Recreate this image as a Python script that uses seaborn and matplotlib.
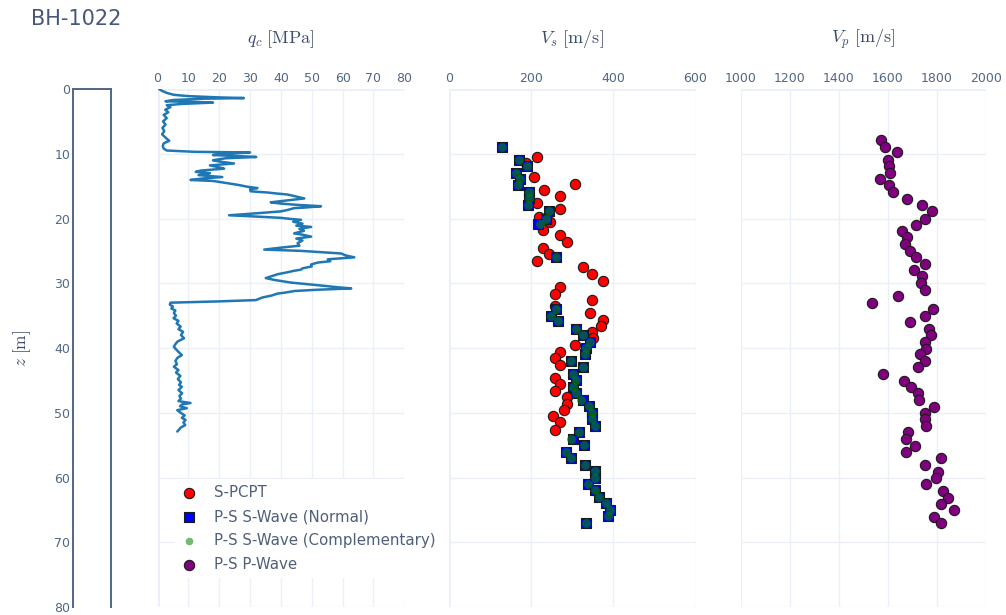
import matplotlib
matplotlib.use("Agg")
import matplotlib.pyplot as plt
import numpy as np
import pandas as pd
import seaborn as sns

# ---------------- data ----------------
title_text = "BH-1022"

qc_depth = [0.0, 0.3, 0.6, 0.9, 1.1, 1.3, 1.4, 1.5, 1.7, 1.9, 2.0, 2.1, 2.3, 2.5, 2.8,
            3.2, 3.6, 4.0, 4.5, 5.0, 5.5, 6.0, 6.5, 7.0, 7.5, 8.0, 8.4, 8.8, 9.2, 9.5,
            9.7, 9.75, 9.8, 10.0, 10.2, 10.4, 10.5, 10.7, 11.0, 11.2, 11.5, 11.8, 12.1,
            12.3, 12.6, 12.8, 13.0, 13.3, 13.6, 13.8, 14.05, 14.2, 14.5, 14.8, 15.1, 15.3,
            15.5, 15.8, 16.0, 16.1, 16.3, 16.6, 16.9, 17.2, 17.5, 17.7, 17.9, 18.1, 18.3,
            18.4, 18.7, 18.9, 19.2, 19.5, 19.7, 19.9, 20.1, 20.2, 20.5, 20.8, 21.1, 21.3,
            21.6, 21.9, 22.3, 22.5, 22.8, 23.1, 23.4, 23.8, 24.2, 24.5, 24.8, 25.0, 25.2,
            25.4, 25.7, 26.0, 26.3, 26.6, 26.8, 27.1, 27.4, 27.7, 27.9, 28.1, 28.3, 28.6,
            28.9, 29.2, 29.5, 29.9, 30.3, 30.6, 30.8, 31.0, 31.2, 31.4, 31.6, 31.9, 32.2,
            32.6, 32.8, 33.0, 33.3, 33.6, 33.9, 34.2, 34.6, 35.0, 35.4, 35.8, 36.2, 36.7,
            37.1, 37.5, 38.0, 38.5, 39.0, 39.4, 39.8, 40.2, 40.6, 41.1, 41.5, 42.0, 42.5,
            42.9, 43.4, 43.8, 44.3, 44.8, 45.3, 45.7, 46.0, 46.5, 47.0, 47.4, 47.8, 48.2,
            48.5, 48.7, 49.0, 49.3, 49.6, 50.0, 50.4, 50.8, 51.1, 51.5, 51.9, 52.3, 52.6,
            52.9]
qc_values = [0.5, 1.5, 3.0, 5.3, 10.0, 20.0, 28.0, 15.0, 5.0, 2.6, 12.0, 18.0, 8.0, 3.0, 4.2,
             2.5, 3.5, 2.0, 3.0, 1.8, 2.6, 1.6, 2.2, 1.5, 2.6, 3.8, 2.0, 1.7, 2.0, 3.0,
             12.0, 20.0, 30.0, 22.0, 18.0, 28.0, 32.0, 22.0, 18.0, 20.0, 24.8, 17.0, 20.0,
             21.6, 14.0, 12.4, 17.0, 13.3, 21.0, 15.0, 10.7, 18.0, 22.0, 26.0, 29.2, 32.4,
             30.0, 30.2, 36.0, 37.8, 42.2, 44.9, 47.6, 42.0, 36.7, 40.0, 45.4, 53.0, 48.0,
             44.3, 42.0, 40.0, 32.0, 23.2, 32.0, 40.0, 43.8, 46.5, 44.0, 47.0, 45.0, 49.8,
             46.0, 47.5, 44.3, 47.0, 49.8, 45.0, 47.0, 45.4, 46.0, 40.0, 34.6, 46.5, 53.0,
             59.5, 61.0, 63.8, 55.2, 56.0, 52.0, 49.8, 50.0, 47.0, 46.5, 44.0, 42.2, 39.0,
             37.0, 35.1, 38.0, 43.3, 52.0, 58.0, 62.8, 52.0, 44.3, 42.0, 38.9, 37.0, 34.0,
             31.9, 20.0, 4.2, 4.0, 5.0, 4.5, 5.8, 5.3, 6.0, 5.2, 6.8, 6.2, 7.5,
             6.8, 8.3, 7.6, 8.6, 6.5, 5.8, 5.3, 6.0, 6.8, 7.9, 6.5, 5.8, 6.3,
             5.3, 6.8, 6.0, 7.4, 6.6, 7.6, 7.0, 7.9, 6.8, 8.0, 7.1, 7.6, 6.8,
             10.7, 8.0, 7.3, 9.5, 6.4, 7.5, 8.8, 7.9, 9.1, 8.4, 9.0, 7.5, 7.0,
             6.4]

spcpt_depth = [10.5, 11.5, 13.6, 14.6, 15.6, 16.6, 17.6, 18.6, 19.7, 20.6, 21.7, 22.5,
               23.6, 24.5, 25.5, 26.5, 27.5, 28.6, 29.6, 30.6, 31.6, 32.6, 33.5, 34.6,
               35.6, 36.6, 37.6, 38.5, 39.5, 40.6, 41.6, 42.6, 44.6, 45.5, 46.6, 47.5,
               48.6, 49.6, 50.5, 51.5, 52.6]
spcpt_vs = [213, 188, 206, 306, 231, 271, 213, 271, 220, 245, 228, 271,
            287, 228, 244, 213, 326, 349, 375, 271, 257, 349, 257, 342,
            375, 369, 349, 350, 306, 271, 257, 271, 257, 271, 257, 287,
            287, 281, 252, 271, 257]

ps_normal_depth = [8.9, 10.9, 11.9, 12.9, 13.9, 14.9, 15.9, 16.9, 17.9, 18.9, 20.0, 20.9,
                   25.9, 33.9, 35.0, 35.9, 37.0, 38.0, 39.0, 40.0, 41.0, 42.0, 43.0, 44.0,
                   45.0, 46.0, 47.0, 48.0, 49.0, 50.0, 51.0, 52.0, 53.0, 54.0, 55.0, 56.0,
                   57.0, 58.0, 59.0, 60.0, 61.0, 62.0, 63.0, 64.0, 65.0, 66.0, 67.0]
ps_normal_vs = [128, 171, 190, 163, 172, 168, 195, 195, 193, 244, 236, 217,
                260, 261, 249, 265, 308, 325, 342, 334, 330, 298, 325, 302,
                308, 302, 310, 326, 341, 347, 347, 355, 317, 302, 328, 286,
                298, 330, 355, 355, 339, 355, 365, 382, 393, 387, 334]

ps_comp_depth = [8.9, 10.9, 11.9, 12.9, 13.9, 14.9, 15.9, 16.9, 17.9, 18.9, 20.0, 20.9,
                 25.9, 33.9, 35.0, 35.9, 37.0, 38.0, 39.0, 40.0, 41.0, 42.0, 43.0, 44.0,
                 45.0, 46.0, 47.0, 48.0, 49.0, 50.0, 51.0, 52.0, 53.0, 54.0, 55.0, 56.0,
                 57.0, 58.0, 59.0, 60.0, 61.0, 62.0, 63.0, 64.0, 65.0, 66.0, 67.0]
ps_comp_vs = [128, 171, 190, 163, 172, 168, 195, 195, 193, 244, 236, 222,
              260, 261, 249, 265, 308, 325, 342, 334, 330, 298, 325, 302,
              308, 302, 310, 322, 341, 347, 347, 355, 317, 296, 328, 286,
              298, 330, 355, 355, 339, 355, 365, 382, 393, 387, 334]

ps_p_depth = [7.9, 8.9, 9.8, 11.0, 11.9, 12.9, 13.9, 14.9, 15.9, 17.0, 17.9, 18.9, 20.0,
              21.0, 21.9, 22.9, 23.9, 25.0, 25.9, 27.0, 28.0, 28.9, 30.0, 31.0, 32.0,
              33.0, 34.0, 35.1, 36.0, 37.0, 38.0, 39.0, 40.1, 41.0, 42.0, 43.0, 44.0,
              45.05, 46.1, 47.0, 48.0, 49.1, 50.0, 51.0, 52.0, 53.0, 54.05, 55.1, 56.1,
              57.0, 58.1, 59.1, 60.1, 61.05, 62.1, 63.1, 64.1, 65.0, 66.1, 67.1]
ps_p_vp = [1571, 1589, 1638, 1600, 1605, 1609, 1568, 1605, 1619, 1679, 1739, 1781, 1749,
           1714, 1656, 1679, 1670, 1689, 1714, 1749, 1707, 1739, 1735, 1749, 1642,
           1536, 1782, 1751, 1689, 1767, 1775, 1753, 1757, 1730, 1753, 1724, 1579,
           1665, 1693, 1721, 1725, 1786, 1753, 1749, 1757, 1683, 1675, 1710, 1675,
           1818, 1749, 1806, 1796, 1757, 1825, 1846, 1818, 1869, 1786, 1818]

z_ticks = [0, 10, 20, 30, 40, 50, 60, 70, 80]
qc_ticks = [0, 10, 20, 30, 40, 50, 60, 70, 80]
vs_ticks = [0, 200, 400, 600]
vp_ticks = [1000, 1200, 1400, 1600, 1800, 2000]

series_labels = ["S-PCPT", "P-S S-Wave (Normal)", "P-S S-Wave (Complementary)", "P-S P-Wave"]

# ---------------- style ----------------
sns.set_theme(style="white")
plt.rcParams["font.family"] = ["DejaVu Sans"]
plt.rcParams["mathtext.fontset"] = "cm"

TICK_C = "#506784"
TEXT_C = "#3b4d6b"
LEG_C = "#4f5f7a"
GRID_C = "#EBF0F8"
LINE_C = "#506784"

W, H = 1006, 615
fig = plt.figure(figsize=(W / 100, H / 100), dpi=100)


def rect(x0, x1, y0=89, y1=607):
    return [x0 / W, 1 - y1 / H, (x1 - x0) / W, (y1 - y0) / H]


ax0 = fig.add_axes(rect(73, 111))
ax1 = fig.add_axes(rect(157.5, 404.3))
ax2 = fig.add_axes(rect(449, 695.5))
ax3 = fig.add_axes(rect(741, 986))

# borehole column
ax0.set_ylim(80, 0)
ax0.set_xlim(0, 1)
ax0.set_yticks(z_ticks)
ax0.set_xticks([])
for s in ["left", "top", "right"]:
    ax0.spines[s].set_visible(True)
    ax0.spines[s].set_color(LINE_C)
    ax0.spines[s].set_linewidth(1.4)
ax0.spines["bottom"].set_visible(False)
ax0.tick_params(axis="y", length=0, pad=2, labelsize=9, labelcolor=TICK_C)
ax0.set_ylabel(r"$z\ \mathrm{[m]}$", fontsize=12.5, color=TEXT_C)
ax0.yaxis.set_label_coords(-1.05, 0.5)

# data panels
panels = [
    (ax1, (0, 80), qc_ticks, r"$q_c\ \mathrm{[MPa]}$"),
    (ax2, (0, 600), vs_ticks, r"$V_s\ \mathrm{[m/s]}$"),
    (ax3, (1000, 2000), vp_ticks, r"$V_p\ \mathrm{[m/s]}$"),
]
for ax, xl, ticks, lab in panels:
    ax.set_xlim(*xl)
    ax.set_ylim(80, 0)
    ax.set_xticks(ticks)
    ax.set_yticks(z_ticks)
    ax.xaxis.tick_top()
    ax.tick_params(axis="x", length=0, pad=3, labelsize=9, labelcolor=TICK_C)
    ax.tick_params(axis="y", length=0, labelleft=False)
    for s in ax.spines.values():
        s.set_visible(False)
    ax.grid(True, color=GRID_C, linewidth=1)
    ax.set_axisbelow(True)
    ax.axhline(0, color=GRID_C, linewidth=2, zorder=0.5)
    if xl[0] == 0:
        ax.axvline(0, color=GRID_C, linewidth=2, zorder=0.5)
    ax.set_xlabel(lab, fontsize=13, color=TEXT_C)
    ax.xaxis.set_label_position("top")
    ax.xaxis.set_label_coords(0.5, 1.088)

# qc profile
qc_df = pd.DataFrame({"depth": qc_depth, "qc": qc_values})
sns.lineplot(data=qc_df, x="qc", y="depth", sort=False, estimator=None,
             color="#1f77b4", linewidth=1.8, ax=ax1, legend=False)

# Vs
sp_df = pd.DataFrame({"depth": spcpt_depth, "vs": spcpt_vs})
nm_df = pd.DataFrame({"depth": ps_normal_depth, "vs": ps_normal_vs})
cm_df = pd.DataFrame({"depth": ps_comp_depth, "vs": ps_comp_vs})
pw_df = pd.DataFrame({"depth": ps_p_depth, "vp": ps_p_vp})

sns.scatterplot(data=sp_df, x="vs", y="depth", ax=ax2, color="#ff0000", marker="o",
                s=55, edgecolor="#1a1a1a", linewidth=0.8, label=series_labels[0], legend=False)
sns.scatterplot(data=nm_df, x="vs", y="depth", ax=ax2, color="#0000ff", marker="s",
                s=46, edgecolor="#1a1a1a", linewidth=0.8, label=series_labels[1], legend=False)
sns.scatterplot(data=cm_df, x="vs", y="depth", ax=ax2, color="green", marker="o",
                s=40, alpha=0.65, linewidth=0, label=series_labels[2], legend=False)
sns.scatterplot(data=pw_df, x="vp", y="depth", ax=ax3, color="#800080", marker="o",
                s=55, edgecolor="#1a1a1a", linewidth=0.8, label=series_labels[3], legend=False)

for ax in (ax1, ax2, ax3):
    ax.set_ylabel("")
    ax.set_ylim(80, 0)

handles = list(ax2.collections) + list(ax3.collections)
leg = fig.legend(handles, series_labels, loc="upper left",
                 bbox_to_anchor=(175 / W, 1 - 479 / H), borderaxespad=0,
                 fontsize=10.8, frameon=True, facecolor="white", edgecolor="none",
                 fancybox=False, framealpha=1, handlelength=1.0, handletextpad=1.2,
                 labelspacing=0.6, borderpad=0.4, scatterpoints=1)
for t in leg.get_texts():
    t.set_color(LEG_C)
leg.legend_handles[2].set_sizes([30])
leg.legend_handles[2].set_alpha(0.55)

fig.text(31 / W, 1 - 19 / H, title_text, fontsize=15, color="#46577a", ha="left", va="center")

fig.savefig("out.png", dpi=100)
